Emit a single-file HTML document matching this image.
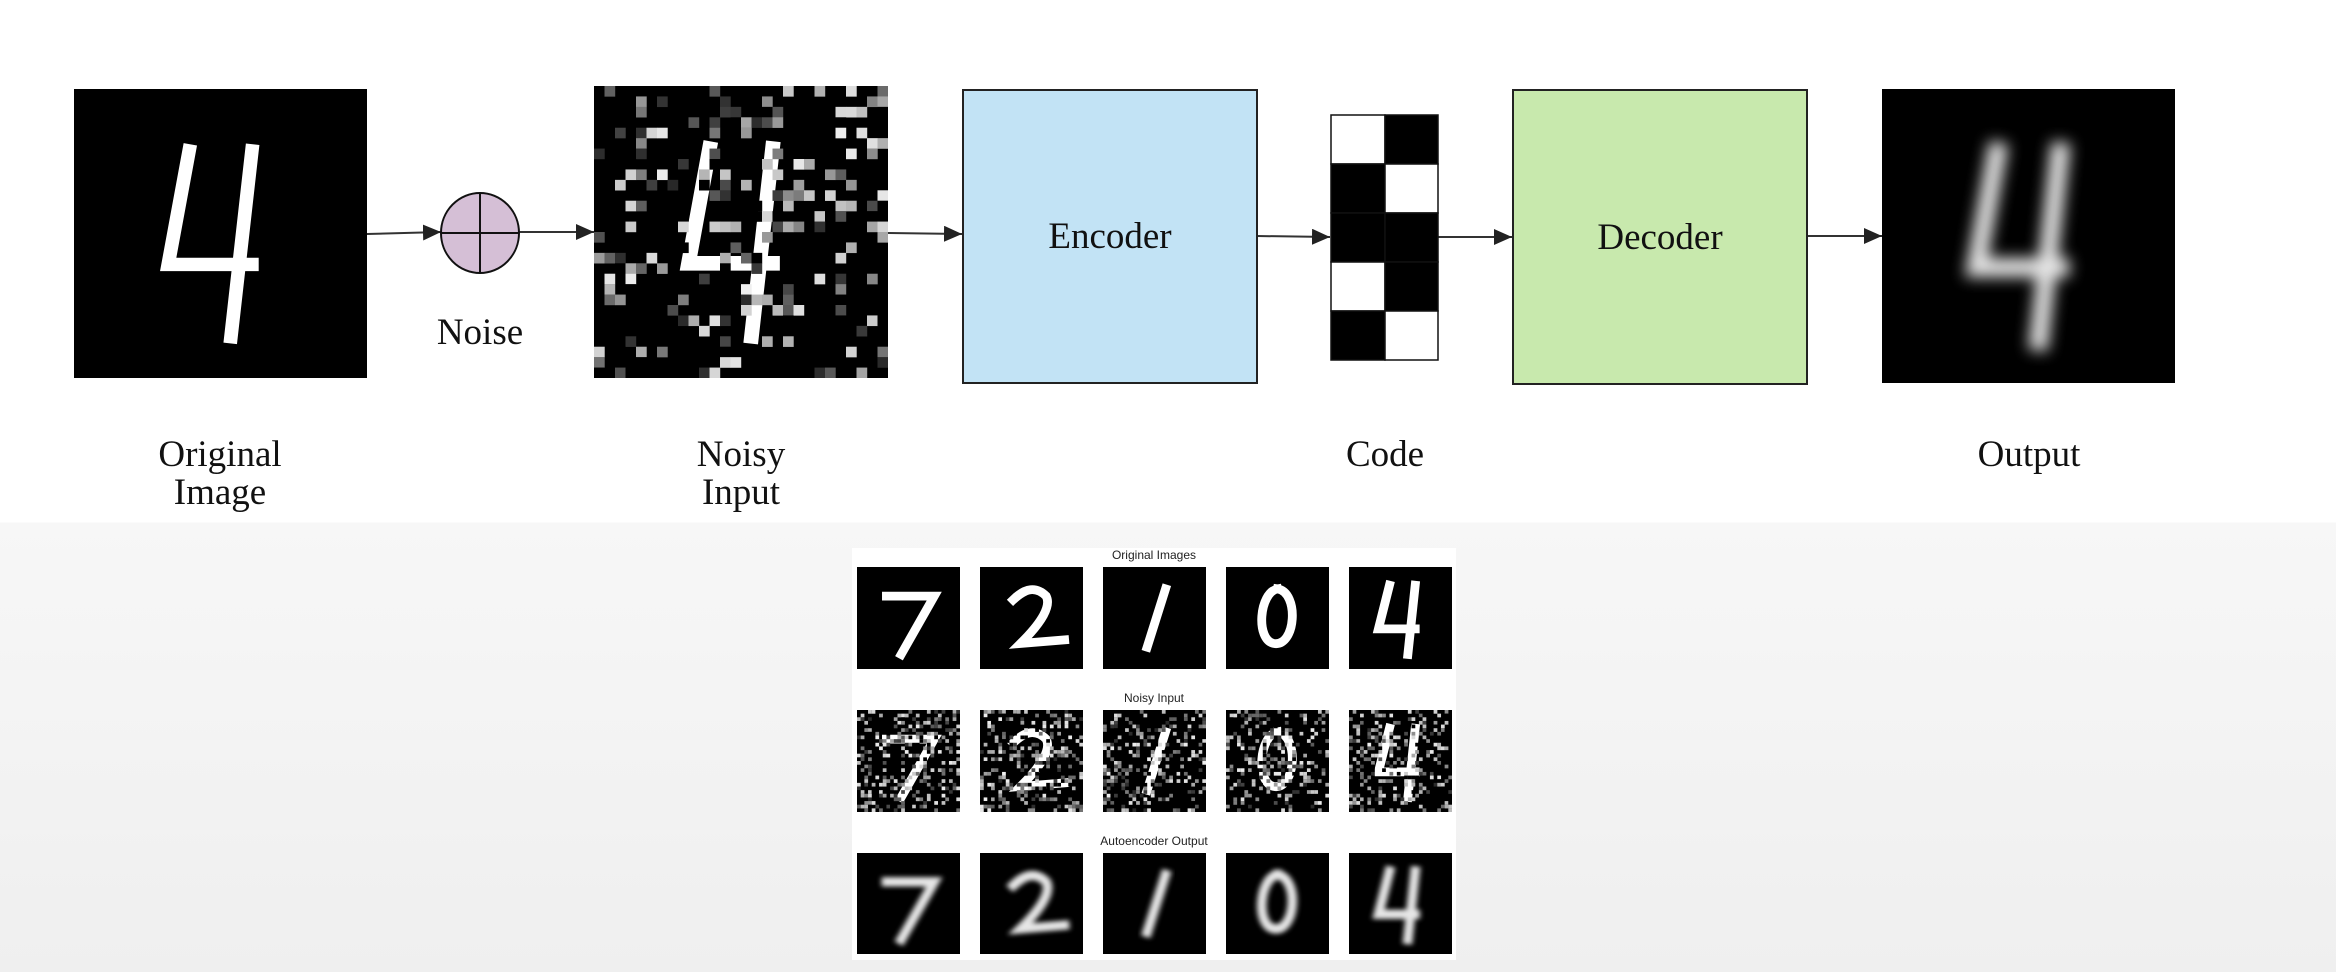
<!DOCTYPE html>
<html><head><meta charset="utf-8"><style>
html,body{margin:0;padding:0}
body{width:2336px;height:972px;position:relative;overflow:hidden;background:linear-gradient(#ffffff 0,#ffffff 522px,#f7f7f7 523px,#efefef 972px);font-family:"Liberation Serif",serif}
.abs{position:absolute}
.lbl{position:absolute;font-size:37px;color:#111;text-align:center;line-height:38px;transform:translateX(-50%);white-space:nowrap}
.box{position:absolute;border:2px solid #222;box-sizing:border-box;display:flex;align-items:center;justify-content:center;font-size:37px;color:#111}
.t{position:absolute;font-family:"Liberation Sans",sans-serif;font-size:12px;color:#222;transform:translateX(-50%);white-space:nowrap}
svg.d{position:absolute;background:#000}
</style></head><body>
<div class="abs" style="left:852px;top:548px;width:604px;height:412px;background:#fff"></div>

<svg class="abs" width="2336" height="400" style="left:0;top:0">
<defs><marker id="ah2" markerWidth="18" markerHeight="16" refX="18" refY="8" orient="auto" markerUnits="userSpaceOnUse"><path d="M0,0 L18,8 L0,16z" fill="#222"/></marker></defs>
<g stroke="#333" stroke-width="2" fill="none">
<line x1="367" y1="234" x2="441" y2="232" marker-end="url(#ah2)"/>
<line x1="519" y1="232" x2="594" y2="232" marker-end="url(#ah2)"/>
<line x1="888" y1="233" x2="962" y2="234" marker-end="url(#ah2)"/>
<line x1="1257" y1="236" x2="1330" y2="237" marker-end="url(#ah2)"/>
<line x1="1438" y1="237" x2="1512" y2="237" marker-end="url(#ah2)"/>
<line x1="1807" y1="236" x2="1882" y2="236" marker-end="url(#ah2)"/>
</g>
<ellipse cx="480" cy="233" rx="39" ry="40" fill="#d5bfd6" stroke="#111" stroke-width="2"/>
<line x1="441" y1="233" x2="519" y2="233" stroke="#111" stroke-width="2"/>
<line x1="480" y1="193" x2="480" y2="273" stroke="#111" stroke-width="2"/>
<g stroke="#111" stroke-width="1.5">
<rect x="1331" y="115" width="54" height="49" fill="#fff"/><rect x="1385" y="115" width="53" height="49" fill="#000"/>
<rect x="1331" y="164" width="54" height="49" fill="#000"/><rect x="1385" y="164" width="53" height="49" fill="#fff"/>
<rect x="1331" y="213" width="54" height="49" fill="#000"/><rect x="1385" y="213" width="53" height="49" fill="#000"/>
<rect x="1331" y="262" width="54" height="49" fill="#fff"/><rect x="1385" y="262" width="53" height="49" fill="#000"/>
<rect x="1331" y="311" width="54" height="49" fill="#000"/><rect x="1385" y="311" width="53" height="49" fill="#fff"/>
</g>
</svg>

<div class="box" style="left:962px;top:89px;width:296px;height:295px;background:#c2e3f5">Encoder</div>
<div class="box" style="left:1512px;top:89px;width:296px;height:296px;background:#c8e9ad">Decoder</div>

<div class="lbl" style="left:480px;top:314px">Noise</div>
<div class="lbl" style="left:220px;top:436px">Original<br>Image</div>
<div class="lbl" style="left:741px;top:436px">Noisy<br>Input</div>
<div class="lbl" style="left:1385px;top:436px">Code</div>
<div class="lbl" style="left:2029px;top:436px">Output</div>

<div class="t" style="left:1154px;top:548px">Original Images</div>
<div class="t" style="left:1154px;top:691px">Noisy Input</div>
<div class="t" style="left:1154px;top:834px">Autoencoder Output</div>

<div id="imgs"></div>
<script>
var P={
'7':'M8 8 L21 8 L12 24',
'2':'M9 9 Q14 4 18 8 Q20 12 11 21 L23 20',
'1':'M17 6 L12 22',
'0':'M14 6 C9 7 8 20 13 21 C19 22 20 7 14 6',
'4':'M11 5 L8 17 L18 17 M18 5 L16 24'
};
var big4='M11 6 L9 17 L17 17 M17 6 L15 24';
var html='';var seed=7;
function r(){seed=(seed*16807)%2147483647;return seed/2147483647;}
function noise(th){var s='';for(var y=0;y<28;y++)for(var x=0;x<28;x++){var v=r();if(v>th){var g=Math.floor(40+r()*200);s+='<rect x="'+x+'" y="'+y+'" width="1.02" height="1.02" fill="rgb('+g+','+g+','+g+')"/>';}else if(v<0.1){s+='<rect x="'+x+'" y="'+y+'" width="1.02" height="1.02" fill="#000"/>';}}return s;}
function img(x,y,w,h,d,type,sw,th){
 var id='b'+x+'_'+y;
 var s='<svg class="d" style="left:'+x+'px;top:'+y+'px" width="'+w+'" height="'+h+'" viewBox="0 0 28 28" preserveAspectRatio="none"><defs><filter id="'+id+'" x="-50%" y="-50%" width="200%" height="200%"><feGaussianBlur stdDeviation="0.7"/></filter></defs>';
 var f=type=='blur'?' filter="url(#'+id+')"':'';
 s+='<path d="'+d+'" stroke="#fff" stroke-width="'+sw+'" fill="none" stroke-linecap="square" stroke-linejoin="miter"'+f+(type=='blur'?' opacity="0.9"':'')+'/>';
 if(type=='noise')s+=noise(th);
 s+='</svg>';return s;}
html+=img(74,89,293,289,big4,'clean',1.3);
html+=img(594,86,294,292,big4,'noise',1.4,0.8);
html+=img(1882,89,293,294,big4,'blur',1.8);
var xs=[857,980,1103,1226,1349],ds=['7','2','1','0','4'];
for(var i=0;i<5;i++){
 html+=img(xs[i],567,103,102,P[ds[i]],'clean',2.4);
 html+=img(xs[i],710,103,102,P[ds[i]],'noise',2.4,0.74);
 html+=img(xs[i],853,103,101,P[ds[i]],'blur',2.6);
}
document.getElementById('imgs').innerHTML=html;
</script>
</body></html>
